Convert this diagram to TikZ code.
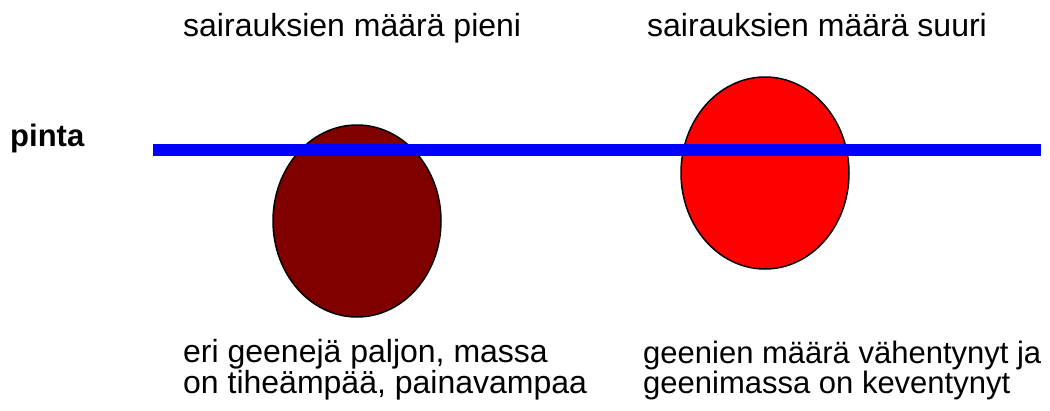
\documentclass[tikz,border=0pt]{standalone}
\usepackage{fontspec}
\setmainfont{Liberation Sans}
\usepackage{tikz}
\usetikzlibrary{shapes.geometric}

\definecolor{darkcell}{HTML}{800000}
\definecolor{lightcell}{HTML}{FF0000}
\definecolor{surfblue}{HTML}{0000FF}

\begin{document}
\begin{tikzpicture}[x=1pt, y=-1pt,
        txt/.style={anchor=base west, inner sep=0pt, align=left, font=\fontsize{32}{28}\selectfont},
        cell/.style={ellipse, draw=black, line width=1.5pt, minimum width=168pt, minimum height=192pt, inner sep=0pt},
        surface/.style={draw=surfblue, line width=12pt}
    ]
    \useasboundingbox (0,0) rectangle (1050,410);

    % Headings above the two cells
    \node[txt] (few) at (183,36.5) {sairauksien määrä pieni};
    \node[txt] (many) at (647,36.5) {sairauksien määrä suuri};

    % Surface label
    \node[txt, font=\fontsize{31}{28}\selectfont\bfseries] (pinta) at (10,146.5) {pinta};

    % Cells
    \node[cell, fill=darkcell] (heavy) at (357,221) {};
    \node[cell, fill=lightcell] (light) at (765,173) {};

    % Surface line, drawn over the cells
    \coordinate (surfL) at (153,149.5);
    \coordinate (surfR) at (1041,149.5);
    \draw[surface] (surfL) -- (surfR);

    % Notes below (anchored on the last line)
    \node[txt] (heavynote) at (183,393) {eri geenejä paljon, massa\\on tiheämpää, painavampaa};
    \node[txt, font=\fontsize{31}{28}\selectfont] (lightnote) at (643,393) {geenien määrä vähentynyt ja\\geenimassa on keventynyt};

\end{tikzpicture}
\end{document}
